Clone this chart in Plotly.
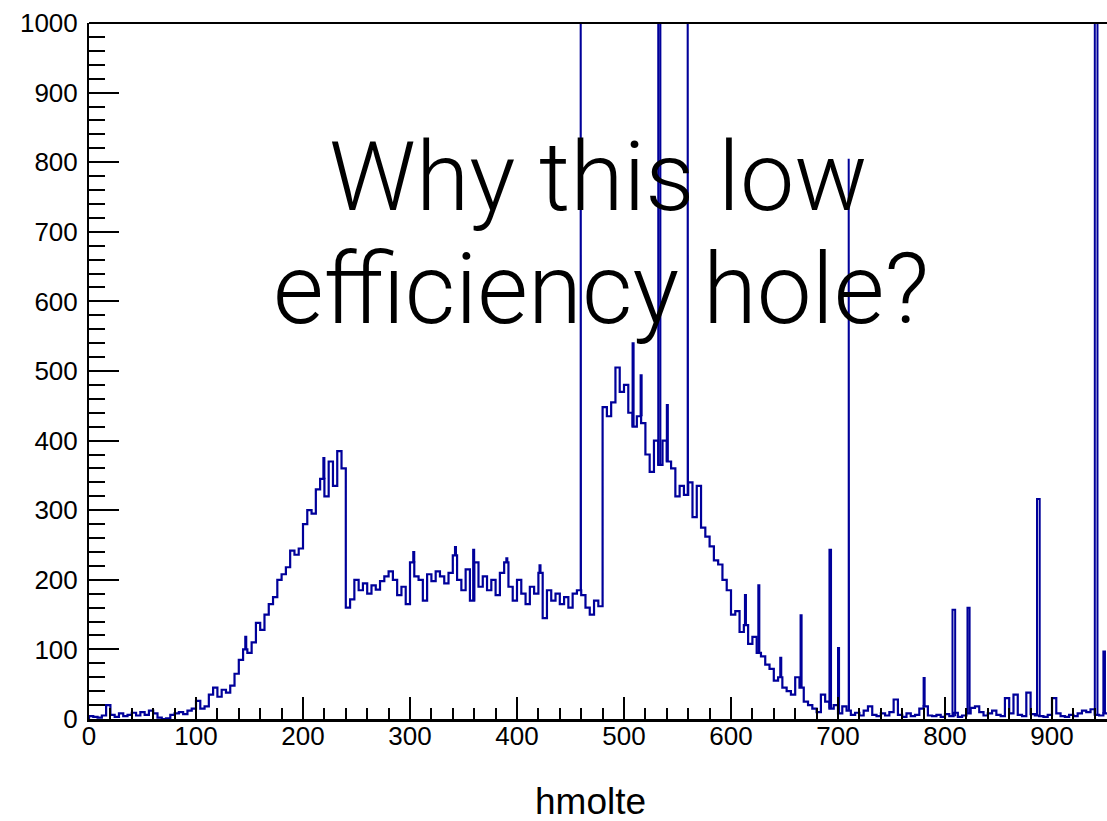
import plotly.graph_objects as go

# ---------------- data ----------------
bin_start = 0
bin_width = 4
counts = [
    # 0 - 100
    4, 3, 2, 5, 20, 6, 3, 8, 4, 6, 9, 5, 10, 6, 12, 8, 2, 0, 1, 6, 8, 10, 7, 12, 15,
    # 100 - 140
    26, 15, 18, 35, 45, 32, 42, 38, 48, 65,
    # 140 - 240
    85, 100, 95, 110, 138, 128, 150, 165, 175, 200, 208, 218, 242, 236, 245,
    280, 300, 295, 330, 345, 320, 370, 335, 385, 360,
    # 240 - 480
    160, 172, 200, 185, 195, 180, 192, 186, 198, 205, 212, 200, 178, 190, 165,
    225, 205, 200, 170, 208, 198, 212, 205, 195, 210, 235, 200, 185, 215, 170,
    225, 190, 205, 185, 200, 178, 210, 225, 190, 170, 200, 180, 165, 190, 180,
    210, 145, 185, 170, 180, 165, 175, 160, 180, 185, 178, 160, 150, 170, 162,
    # 480 - 700
    448, 435, 455, 505, 470, 480, 440, 420, 435, 425, 380, 355, 400, 365, 400,
    370, 360, 320, 335, 322, 340, 290, 335, 275, 262, 248, 228, 222, 200, 185,
    150, 155, 125, 135, 108, 118, 95, 90, 78, 72, 55, 60, 45, 40, 35,
    60, 45, 25, 20, 15, 10, 35, 25, 15, 20,
    # 700 - 952
    8, 18, 12, 6, 9, 5, 12, 18, 6, 4, 8, 5, 10, 28, 6, 3, 8, 4, 6, 15,
    18, 5, 4, 6, 3, 7, 4, 9, 3, 5, 8, 16, 18, 10, 5, 8, 12, 6, 4, 30,
    8, 35, 6, 4, 38, 7, 5, 4, 3, 6, 30, 8, 4, 3, 6, 4, 8, 12, 10, 14,
    6, 5, 8,
]

# narrow spikes: start, width, height
spike_x = [146, 219, 303, 342, 359, 390, 421, 459.5, 508, 515.5, 532, 540, 559.5,
           613, 625.5, 646, 665, 692, 700, 710, 780, 807, 821, 886, 940, 948]
spike_w = [1, 1, 1, 1, 1, 1, 1, 0.3, 1, 1, 2, 1, 0.3,
           1, 1, 1, 1, 1.5, 1, 0.3, 1, 2.5, 2, 2.5, 2.5, 1.5]
spike_h = [118, 375, 240, 247, 243, 231, 221, 1200, 540, 494, 1200, 451, 1200,
           178, 192, 88, 149, 243, 102, 805, 59, 157, 160, 316, 1200, 97]

x_ticks = list(range(0, 1000, 100))
y_ticks = list(range(0, 1001, 100))
x_title = "hmolte"
overlay_lines = ["Why this low", "efficiency hole?"]

# ---------------- build ----------------
edges = [bin_start + i * bin_width for i in range(len(counts) + 1)]
hx = [0] + edges
hy = [0] + counts + [counts[-1]]

sx, sy = [], []
for x0, w, h in zip(spike_x, spike_w, spike_h):
    idx = min(int((x0 - bin_start) // bin_width), len(counts) - 1)
    b = counts[idx]
    sx += [x0, x0, x0 + w, x0 + w, None]
    sy += [b, h, h, b, None]

blue = "#00009a"
fig = go.Figure()
fig.add_trace(go.Scatter(x=hx, y=hy, mode="lines",
                         line=dict(shape="hv", color=blue, width=2.2),
                         hoverinfo="skip", showlegend=False))
fig.add_trace(go.Scatter(x=sx, y=sy, mode="lines",
                         line=dict(color=blue, width=2),
                         hoverinfo="skip", showlegend=False))

tickfont = dict(family="Liberation Sans, Arial, sans-serif", size=26, color="black")
big_font = dict(family="Roboto, Liberation Sans, sans-serif", size=97,
                color="black", weight=300)
big_font2 = dict(big_font, size=98)
fig.update_layout(
    width=1107, height=821,
    margin=dict(l=89, r=0, t=23, b=102),
    paper_bgcolor="white", plot_bgcolor="white",
    xaxis=dict(range=[0, 951.4], tickvals=x_ticks, ticks="inside", ticklen=22,
               tickwidth=1.5, tickcolor="black", showline=True, linewidth=3,
               linecolor="black", showgrid=False, zeroline=False, tickfont=tickfont,
               ticklabelstandoff=-8,
               minor=dict(dtick=20, tick0=0, ticks="inside", ticklen=11,
                          tickwidth=1.5, tickcolor="black", showgrid=False)),
    yaxis=dict(range=[0, 1000], tickvals=y_ticks, ticks="inside", ticklen=30,
               tickwidth=2, tickcolor="black", showline=True, linewidth=2,
               linecolor="black", showgrid=False, zeroline=False, tickfont=tickfont,
               ticklabelstandoff=4,
               minor=dict(dtick=20, tick0=0, ticks="inside", ticklen=16,
                          tickwidth=2, tickcolor="black", showgrid=False)),
    shapes=[dict(type="line", xref="paper", yref="paper", x0=0, x1=1, y0=1, y1=1,
                 line=dict(color="black", width=2))],
    annotations=[
        dict(text=x_title, xref="paper", yref="paper", x=0.493, y=-0.119,
             xanchor="center", yanchor="middle", showarrow=False,
             font=dict(family="Liberation Sans, Arial, sans-serif", size=37, color="black")),
        dict(text=overlay_lines[0], xref="paper", yref="paper", x=0.5, y=0.7787,
             xanchor="center", yanchor="middle", showarrow=False, font=big_font),
        dict(text=overlay_lines[1], xref="paper", yref="paper", x=0.503, y=0.6178,
             xanchor="center", yanchor="middle", showarrow=False, font=big_font2),
    ],
)

fig.write_html("out.html",
               config={"displayModeBar": False},
               post_script="document.body.style.margin='0';document.body.style.padding='0';"
                           "document.documentElement.style.overflow='hidden';")
